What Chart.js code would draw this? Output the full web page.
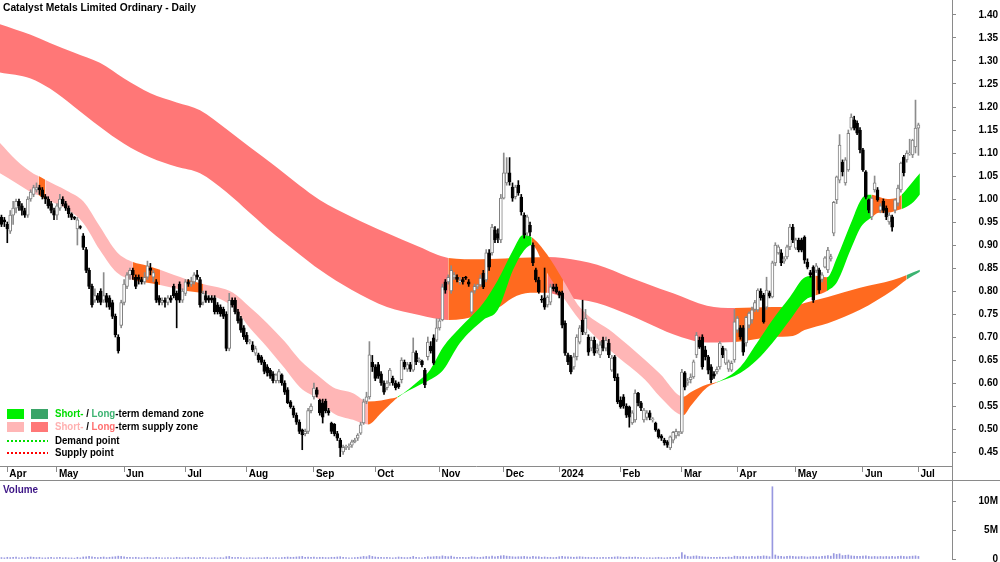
<!DOCTYPE html>
<html>
<head>
<meta charset="utf-8">
<title>Catalyst Metals Limited Ordinary - Daily</title>
<script src="https://cdn.jsdelivr.net/npm/chart.js@4.4.1/dist/chart.umd.min.js"></script>
<style>
  html, body { margin: 0; padding: 0; background: #fff; }
  #page { position: relative; width: 1000px; height: 562px; overflow: hidden; }
  #priceCanvas { position: absolute; left: 0; top: 0; }
  #volCanvas { position: absolute; left: 0; top: 481px; }
  #sep { position: absolute; left: 0; top: 480px; width: 1000px; height: 1px; background: #8a8a8a; }
</style>
</head>
<body>
<div id="page">
  <canvas id="priceCanvas" width="1000" height="481"></canvas>
  <div id="sep"></div>
  <canvas id="volCanvas" width="1000" height="81"></canvas>
</div>
<script>
// daily candles, index 0 = 30 Mar 2023, last = 1 Jul 2024
const opens = [
  .96,.955,.945,.93,.965,.98,.995,.985,.975,.965,
  1.0,1.01,1.02,1.025,1.02,1.005,1.0,.99,.975,.965,
  .98,1.0,.99,.98,.968,.96,.935,.94,.92,.89,
  .845,.81,.78,.79,.8,.78,.79,.785,.775,.745,
  .70,.725,.775,.81,.835,.845,.83,.83,.825,.82,
  .83,.85,.83,.82,.785,.775,.78,.775,.785,.81,
  .795,.815,.78,.795,.82,.815,.82,.835,.825,.775,
  .79,.785,.785,.785,.77,.765,.76,.75,.675,.78,
  .78,.755,.74,.72,.704,.69,.683,.665,.661,.657,
  .645,.635,.628,.62,.605,.605,.618,.6,.585,.559,
  .545,.53,.515,.498,.49,.495,.54,.57,.585,.563,
  .557,.56,.54,.513,.51,.49,.476,.45,.46,.46,
  .465,.472,.48,.491,.513,.56,.57,.645,.635,.64,
  .62,.6,.59,.6,.61,.6,.598,.607,.645,.63,
  .64,.628,.665,.65,.648,.628,.657,.68,.698,.693,
  .72,.737,.82,.82,.80,.83,.83,.82,.825,.83,
  .82,.754,.80,.81,.813,.839,.824,.883,.883,.933,
  .925,.911,1.002,1.035,1.057,1.026,1.005,1.03,1.004,.965,
  .926,.943,.90,.846,.824,.782,.785,.77,.776,.809,
  .809,.798,.796,.73,.661,.657,.635,.657,.689,.737,
  .709,.70,.676,.693,.67,.661,.693,.676,.687,.628,
  .657,.613,.563,.57,.55,.548,.513,.52,.578,.557,
  .52,.525,.535,.52,.513,.498,.485,.476,.472,.459,
  .476,.485,.49,.493,.622,.60,.607,.613,.661,.693,
  .70,.672,.657,.635,.62,.624,.635,.676,.643,.63,
  .628,.65,.715,.72,.72,.687,.726,.737,.76,.759,
  .80,.791,.765,.796,.787,.861,.883,.883,.865,.874,
  .896,.939,.893,.91,.911,.917,.863,.84,.852,.845,
  .846,.825,.852,.846,.87,.926,.998,1.041,1.08,1.035,
  1.063,1.154,1.172,1.165,1.15,1.107,1.059,.998,.961,1.02,
  1.02,.975,.995,.98,.95,.961,.976,.991,1.02,1.091,
  1.085,1.098,1.096,1.113,1.154
];
const highs = [
  .965,.96,.95,.975,.995,1.0,1.0,.99,.98,1.005,
  1.02,1.03,1.035,1.03,1.025,1.01,1.005,.995,.98,.99,
  1.01,1.005,.995,.985,.97,.962,.96,.942,.925,.895,
  .85,.815,.805,.795,.805,.84,.795,.79,.78,.75,
  .705,.78,.825,.84,.85,.85,.835,.835,.83,.84,
  .865,.86,.845,.825,.79,.785,.785,.79,.79,.815,
  .8,.82,.805,.825,.825,.83,.84,.845,.83,.8,
  .8,.79,.79,.79,.775,.77,.765,.755,.795,.785,
  .785,.76,.745,.725,.71,.695,.69,.68,.665,.66,
  .65,.64,.632,.625,.62,.63,.62,.605,.59,.562,
  .55,.535,.52,.5,.5,.545,.555,.6,.59,.565,
  .565,.565,.545,.515,.512,.495,.48,.465,.465,.468,
  .476,.48,.49,.515,.565,.58,.69,.66,.64,.645,
  .625,.605,.605,.632,.615,.605,.602,.655,.65,.645,
  .645,.698,.67,.655,.65,.632,.70,.69,.705,.74,
  .74,.815,.825,.835,.855,.84,.835,.83,.83,.832,
  .825,.80,.815,.815,.835,.845,.89,.89,.945,.94,
  .935,1.01,1.10,1.09,1.09,1.035,1.03,1.04,1.01,.97,
  .965,.95,.905,.85,.83,.79,.85,.79,.815,.815,
  .815,.80,.80,.735,.665,.66,.665,.705,.725,.78,
  .76,.705,.70,.70,.685,.69,.70,.70,.695,.66,
  .66,.62,.57,.575,.555,.55,.54,.585,.58,.56,
  .545,.54,.54,.525,.515,.50,.488,.48,.475,.485,
  .495,.50,.495,.63,.625,.61,.62,.65,.71,.70,
  .705,.68,.66,.64,.625,.635,.69,.68,.675,.65,
  .648,.76,.745,.725,.725,.745,.755,.765,.78,.805,
  .805,.795,.83,.80,.865,.905,.90,.89,.875,.90,
  .945,.945,.915,.915,.915,.92,.87,.845,.855,.86,
  .85,.84,.875,.895,.88,.995,1.05,1.14,1.085,1.09,
  1.15,1.185,1.18,1.17,1.155,1.11,1.062,1.0,1.005,1.05,
  1.025,.99,1.0,.985,.97,.965,1.0,1.03,1.08,1.095,
  1.105,1.13,1.13,1.215,1.165
];
const lows = [
  .94,.94,.905,.925,.945,.97,.975,.965,.96,.96,
  .995,1.005,1.015,1.01,1.0,.99,.98,.97,.955,.955,
  .975,.985,.975,.96,.955,.955,.9,.935,.89,.84,
  .805,.765,.775,.775,.77,.775,.765,.76,.74,.7,
  .665,.72,.77,.805,.825,.825,.805,.815,.815,.815,
  .825,.835,.82,.775,.77,.77,.765,.77,.775,.785,
  .72,.775,.775,.79,.81,.81,.815,.825,.765,.77,
  .775,.775,.775,.75,.75,.745,.74,.67,.67,.765,
  .75,.73,.71,.695,.685,.685,.668,.66,.645,.64,
  .62,.615,.61,.6,.6,.6,.595,.575,.555,.545,
  .525,.51,.49,.455,.485,.49,.535,.565,.57,.53,
  .513,.535,.53,.49,.485,.475,.44,.445,.455,.455,
  .46,.47,.475,.488,.51,.555,.565,.625,.605,.61,
  .595,.575,.585,.595,.595,.585,.588,.6,.63,.625,
  .625,.625,.64,.645,.635,.59,.65,.665,.64,.69,
  .715,.735,.795,.815,.795,.825,.82,.815,.815,.825,
  .81,.75,.795,.805,.81,.805,.82,.845,.878,.905,
  .905,.905,1.0,1.03,1.03,.995,1.0,1.008,.965,.915,
  .92,.92,.855,.82,.795,.775,.76,.765,.77,.80,
  .795,.785,.72,.66,.64,.62,.63,.65,.685,.705,
  .705,.66,.67,.66,.665,.655,.67,.67,.655,.625,
  .605,.555,.545,.545,.525,.504,.51,.515,.55,.54,
  .515,.52,.52,.515,.495,.48,.475,.465,.46,.455,
  .47,.48,.485,.49,.585,.595,.60,.61,.655,.675,
  .63,.65,.62,.60,.61,.62,.63,.655,.64,.625,
  .625,.645,.71,.695,.66,.68,.72,.73,.755,.755,
  .78,.73,.76,.785,.785,.855,.88,.855,.86,.87,
  .89,.905,.89,.885,.885,.86,.848,.83,.775,.84,
  .795,.82,.85,.84,.865,.92,.99,1.035,1.05,1.03,
  1.06,1.15,1.15,1.14,1.10,1.06,1.0,.97,.955,1.015,
  .995,.97,.97,.955,.945,.93,.97,.985,1.015,1.05,
  1.08,1.095,1.09,1.10,1.095
];
const closes = [
  .945,.95,.935,.965,.98,.995,.985,.975,.965,1.0,
  1.015,1.025,1.025,1.02,1.005,1.0,.985,.975,.965,.985,
  1.0,.99,.98,.968,.96,.958,.955,.938,.895,.845,
  .81,.77,.79,.78,.775,.79,.775,.765,.745,.705,
  .67,.775,.815,.835,.845,.835,.81,.825,.82,.83,
  .855,.845,.84,.78,.775,.78,.775,.785,.78,.79,
  .78,.78,.8,.82,.815,.82,.835,.83,.77,.795,
  .78,.78,.78,.755,.755,.75,.745,.675,.78,.77,
  .755,.735,.715,.70,.69,.69,.672,.675,.65,.645,
  .625,.622,.615,.605,.618,.625,.6,.58,.557,.548,
  .53,.515,.495,.487,.495,.54,.55,.589,.575,.535,
  .526,.54,.535,.495,.49,.48,.459,.46,.46,.462,
  .472,.476,.487,.509,.559,.57,.661,.635,.61,.615,
  .6,.58,.6,.628,.6,.59,.592,.65,.635,.64,
  .63,.667,.646,.65,.64,.596,.689,.67,.643,.72,
  .735,.809,.802,.83,.845,.835,.825,.82,.82,.828,
  .815,.798,.81,.81,.828,.809,.883,.852,.939,.911,
  .915,1.002,1.057,1.057,1.037,1.002,1.026,1.013,.972,.922,
  .961,.928,.861,.824,.798,.78,.765,.787,.809,.805,
  .798,.791,.726,.665,.646,.624,.657,.70,.72,.711,
  .741,.667,.693,.665,.675,.683,.676,.693,.661,.654,
  .611,.559,.548,.55,.53,.526,.535,.578,.557,.546,
  .541,.535,.525,.52,.498,.483,.48,.47,.465,.483,
  .493,.495,.49,.624,.591,.605,.613,.646,.704,.678,
  .635,.657,.628,.607,.615,.63,.687,.661,.672,.646,
  .643,.733,.741,.70,.667,.743,.752,.759,.775,.802,
  .785,.733,.802,.789,.861,.90,.896,.861,.87,.896,
  .939,.911,.911,.89,.889,.867,.852,.835,.78,.855,
  .802,.835,.872,.889,.875,.993,1.048,1.117,1.059,1.085,
  1.143,1.178,1.154,1.143,1.107,1.063,1.004,.976,1.002,1.035,
  .998,.985,.975,.961,.965,.939,.998,1.024,1.078,1.057,
  1.10,1.10,1.128,1.154,1.161
];
// volume, millions of shares
const volumes = [
  .25,.2,.3,.25,.3,.35,.2,.25,.2,.3,
  .35,.3,.25,.3,.2,.2,.25,.3,.2,.25,
  .3,.2,.25,.2,.2,.15,.3,.2,.35,.4,
  .45,.4,.3,.25,.3,.35,.25,.3,.35,.4,
  .5,.45,.4,.3,.3,.25,.3,.25,.2,.25,
  .3,.25,.2,.3,.25,.2,.2,.25,.2,.2,
  .3,.25,.2,.25,.3,.2,.25,.2,.3,.25,
  .2,.2,.2,.25,.2,.25,.2,.4,.45,.3,
  .25,.3,.25,.2,.2,.25,.2,.2,.25,.2,
  .25,.3,.2,.2,.25,.2,.25,.3,.35,.3,
  .3,.35,.4,.45,.3,.35,.3,.35,.25,.3,
  .3,.25,.25,.3,.3,.35,.4,.3,.25,.2,
  .2,.25,.3,.35,.45,.4,.6,.45,.35,.3,
  .3,.25,.3,.25,.2,.25,.35,.3,.25,.25,
  .3,.45,.3,.25,.2,.3,.4,.35,.4,.45,
  .4,.55,.45,.4,.5,.35,.3,.3,.3,.25,
  .3,.4,.35,.3,.3,.35,.45,.4,.5,.4,
  .45,.55,.6,.5,.45,.4,.35,.4,.4,.45,
  .4,.35,.45,.4,.4,.3,.35,.3,.3,.25,
  .3,.4,.45,.4,.4,.35,.3,.35,.4,.35,
  .3,.3,.25,.3,.25,.25,.3,.25,.3,.3,
  .35,.4,.35,.3,.3,.35,.3,.35,.3,.25,
  .25,.2,.25,.2,.25,.3,.25,.2,.25,.3,
  .25,.3,.35,1.1,.7,.45,.4,.5,.55,.45,
  .4,.35,.35,.3,.3,.3,.35,.3,.3,.35,
  .3,.5,.45,.4,.45,.4,.4,.45,.4,.5,
  .45,.55,.5,.4,12.6,.7,.5,.45,.4,.45,
  .5,.45,.4,.4,.45,.4,.35,.4,.45,.4,
  .4,.45,.5,.6,.5,.95,.8,.9,.6,.65,
  .7,.55,.5,.45,.45,.5,.55,.45,.4,.45,
  .4,.45,.4,.45,.4,.45,.4,.45,.5,.45,
  .4,.45,.5,.55,.45
];

// short-term zone: knot positions (trading-day index), upper and lower edge, state s/t/d
const shortX = [-0.5,5,11,12.7,15,22.4,28,33.7,39.5,45,50,54.3,63.5,69,79.3,85,91,97,102.2,109,113.5,120.4,125.5,130,132.5,135.6,143.3,146.7,151.2,157,165,170,175.2,178.6,181.6,186.8,192.3,198,209.5,220.4,225.5,233.5,236,241.6,245,253,258.7,264,270,275.2,278.7,282.7,286.2,290.8,294.3,296.6,298,300.4,303.5,306.5,308.3,311.7,314.5];
const shortHi = [1.122,1.085,1.055,1.05,1.042,1.018,.995,.94,.885,.863,.855,.846,.825,.815,.796,.765,.73,.69,.65,.613,.591,.578,.56,.562,.565,.57,.607,.628,.678,.72,.774,.824,.889,.922,.917,.88,.824,.765,.709,.65,.62,.57,.58,.597,.602,.635,.687,.737,.787,.83,.833,.83,.874,.946,.998,1.009,1.009,1.005,1.0,1.002,1.01,1.035,1.056];
const shortLo = [1.056,1.035,1.012,1.008,1.0,.978,.948,.889,.84,.824,.818,.813,.80,.795,.765,.72,.678,.632,.591,.563,.535,.52,.51,.535,.55,.568,.596,.607,.628,.687,.737,.759,.846,.885,.90,.84,.787,.737,.665,.607,.57,.53,.55,.59,.601,.622,.65,.687,.737,.78,.79,.80,.82,.89,.939,.954,.96,.97,.97,.975,.978,.99,1.01];
const shortZone = ['s','s','s','t','s','s','s','s','s','t','t','s','t','s','s','s','s','s','s','s','s','s','t','t','t','d','d','d','d','d','d','d','d','d','t','t','s','s','s','s','s','t','t','t','d','d','d','d','d','d','t','d','d','d','d','d','t','t','t','t','d','d','d'];

// long-term zone
const longX = [-0.5,10,16.6,25,33.7,42,51,60,68,77,85,94,102,109,120,132,143,153,164,170,175,181,187,192.3,204,215,225.5,230,241.6,251.2,264,271,275,283,294,305.3,310,314.5];
const longHi = [1.38,1.357,1.339,1.318,1.296,1.262,1.23,1.21,1.193,1.152,1.113,1.07,1.03,.998,.961,.926,.896,.872,.869,.870,.872,.873,.874,.872,.857,.83,.805,.795,.768,.763,.765,.766,.774,.787,.807,.824,.835,.846];
const longLo = [1.275,1.262,1.24,1.20,1.157,1.12,1.09,1.07,1.056,1.015,.97,.92,.88,.846,.802,.765,.748,.737,.748,.763,.785,.796,.796,.787,.774,.748,.718,.706,.688,.689,.70,.702,.715,.73,.759,.802,.825,.842];
const longZone = ['s','s','s','s','s','s','s','s','s','s','s','s','s','s','s','s','s','t','t','t','t','t','s','s','s','s','s','s','s','t','t','t','t','t','t','t','d','d'];

const monthIdx = [2,19,42,63,84,107,128,150,172,191,212,233,252,272,295,314];
const monthLabels = ['Apr','May','Jun','Jul','Aug','Sep','Oct','Nov','Dec','2024','Feb','Mar','Apr','May','Jun','Jul'];
const priceTicks = [0.45,0.50,0.55,0.60,0.65,0.70,0.75,0.80,0.85,0.90,0.95,1.00,1.05,1.10,1.15,1.20,1.25,1.30,1.35,1.40];
const volTicks = [0, 5, 10];

const FONT = '"Liberation Sans", Arial, sans-serif';
Chart.defaults.font.family = FONT;
Chart.defaults.animation = false;

const shortColors = { s: '#ffb6b6', t: '#ff6a1f', d: '#00f000' };
const longColors = { s: '#ff7777', t: '#ff6a1f', d: '#3cb371' };

function zonePair(xs, hi, lo, zone, palette) {
  const top = {
    type: 'line',
    data: xs.map((x, i) => ({ x: x, y: hi[i] })),
    borderColor: 'rgba(0,0,0,0)',
    borderWidth: 0,
    pointRadius: 0,
    cubicInterpolationMode: 'monotone',
    backgroundColor: palette[zone[0]],
    fill: '+1',
    segment: {
      backgroundColor: ctx => palette[zone[ctx.p0DataIndex]]
    }
  };
  const bottom = {
    type: 'line',
    data: xs.map((x, i) => ({ x: x, y: lo[i] })),
    borderColor: 'rgba(0,0,0,0)',
    borderWidth: 0,
    pointRadius: 0,
    cubicInterpolationMode: 'monotone',
    fill: false
  };
  return [top, bottom];
}

const rising = closes.map((c, i) => c >= opens[i]);

const bodies = {
  type: 'bar',
  data: closes.map((c, i) => ({ x: i, y: [Math.min(opens[i], c), Math.max(opens[i], c)] })),
  backgroundColor: rising.map(u => u ? '#ffffff' : '#000000'),
  borderColor: rising.map(u => u ? '#808080' : '#000000'),
  borderWidth: 1,
  borderSkipped: false,
  barThickness: 3,
  minBarLength: 1,
  grouped: false
};
const wicks = {
  type: 'bar',
  data: closes.map((c, i) => ({ x: i, y: [lows[i], highs[i]] })),
  backgroundColor: rising.map(u => u ? '#8c8c8c' : '#000000'),
  barThickness: 1,
  grouped: false
};

function runText(ctx, runs, x, y, sx) {
  ctx.font = 'bold 11px ' + FONT;
  ctx.textBaseline = 'middle';
  let cx = x;
  runs.forEach(([txt, col]) => {
    ctx.save();
    ctx.translate(cx, y);
    ctx.scale(sx, 1);
    ctx.fillStyle = col;
    ctx.fillText(txt, 0, 0);
    ctx.restore();
    cx += ctx.measureText(txt).width * sx;
  });
}

const priceOverlay = {
  id: 'priceOverlay',
  afterDraw(chart) {
    const ctx = chart.ctx;
    ctx.save();
    // title, squeezed to the width it has in the original
    ctx.font = 'bold 11px ' + FONT;
    const title = 'Catalyst Metals Limited Ordinary - Daily';
    const tw = ctx.measureText(title).width;
    runText(ctx, [[title, '#000']], 3, 8, 193 / tw);

    // legend
    ctx.fillStyle = '#00f000'; ctx.fillRect(7, 409, 17, 10);
    ctx.fillStyle = '#3aa468'; ctx.fillRect(31, 409, 17, 10);
    ctx.fillStyle = '#ffb6b6'; ctx.fillRect(7, 422, 17, 10);
    ctx.fillStyle = '#ff7777'; ctx.fillRect(31, 422, 17, 10);
    ctx.lineWidth = 2;
    ctx.setLineDash([2, 2]);
    ctx.strokeStyle = '#00e000';
    ctx.beginPath(); ctx.moveTo(7, 441); ctx.lineTo(48, 441); ctx.stroke();
    ctx.strokeStyle = '#ff0000';
    ctx.beginPath(); ctx.moveTo(7, 453); ctx.lineTo(48, 453); ctx.stroke();
    ctx.setLineDash([]);
    const sx = 0.88;
    runText(ctx, [['Short-', '#00dd00'], [' / ', '#000'], ['Long', '#3cb371'], ['-term demand zone', '#000']], 55, 414, sx);
    runText(ctx, [['Short-', '#ffb0b0'], [' / ', '#000'], ['Long', '#ff6f6f'], ['-term supply zone', '#000']], 55, 427, sx);
    runText(ctx, [['Demand point', '#000']], 55, 441, sx);
    runText(ctx, [['Supply point', '#000']], 55, 453, sx);

    // axis line continues through the date strip
    const r = chart.chartArea.right;
    ctx.strokeStyle = '#8a8a8a';
    ctx.lineWidth = 1;
    ctx.beginPath(); ctx.moveTo(Math.round(r) + 0.5, chart.chartArea.bottom); ctx.lineTo(Math.round(r) + 0.5, 481); ctx.stroke();
    ctx.restore();
  }
};

const tickFont = { family: FONT, size: 10, weight: 'bold' };

new Chart(document.getElementById('priceCanvas'), {
  type: 'bar',
  data: {
    datasets: [bodies, wicks]
      .concat(zonePair(shortX, shortHi, shortLo, shortZone, shortColors))
      .concat(zonePair(longX, longHi, longLo, longZone, longColors))
  },
  options: {
    responsive: false,
    animation: false,
    layout: { padding: { left: 0, right: 2, top: 0, bottom: 0 } },
    plugins: { legend: { display: false }, tooltip: { enabled: false } },
    scales: {
      x: {
        type: 'linear',
        min: -0.5,
        max: 325.5,
        offset: false,
        afterBuildTicks: s => { s.ticks = monthIdx.map(v => ({ value: v })); },
        afterFit: s => { s.height = 15; s.paddingLeft = 0; s.paddingRight = 0; },
        grid: { offset: false, drawOnChartArea: false, tickLength: 6, color: '#8a8a8a' },
        border: { color: '#8a8a8a' },
        ticks: {
          autoSkip: false, maxRotation: 0, align: 'start', padding: -4,
          color: '#000', font: tickFont,
          // thin space keeps the label just right of its tick mark
          callback: (v, i) => '\u2009' + monthLabels[i]
        }
      },
      y: {
        position: 'right',
        min: 0.4196,
        max: 1.4326,
        afterBuildTicks: s => { s.ticks = priceTicks.map(v => ({ value: v })); },
        afterFit: s => { s.width = 46; s.paddingTop = 0; s.paddingBottom = 0; },
        grid: { drawOnChartArea: false, tickLength: 4, color: '#8a8a8a' },
        border: { color: '#8a8a8a' },
        ticks: { crossAlign: 'far', color: '#000', font: tickFont, callback: v => v.toFixed(2) }
      }
    }
  },
  plugins: [priceOverlay]
});

const volOverlay = {
  id: 'volOverlay',
  afterDraw(chart) {
    const ctx = chart.ctx;
    ctx.save();
    runText(ctx, [['Volume', '#3c1485']], 3, 9, 0.9);
    ctx.restore();
  }
};

new Chart(document.getElementById('volCanvas'), {
  type: 'bar',
  data: {
    datasets: [{
      data: volumes.map((v, i) => ({ x: i, y: v })),
      backgroundColor: '#9898e0',
      barThickness: 1,
      grouped: false
    }]
  },
  options: {
    responsive: false,
    animation: false,
    layout: { padding: { left: 0, right: 2, top: 0, bottom: 3 } },
    plugins: { legend: { display: false }, tooltip: { enabled: false } },
    scales: {
      x: { type: 'linear', display: false, min: -0.5, max: 325.5, offset: false },
      y: {
        position: 'right',
        min: 0,
        max: 13.6,
        afterBuildTicks: s => { s.ticks = volTicks.map(v => ({ value: v })); },
        afterFit: s => { s.width = 46; s.paddingTop = 0; s.paddingBottom = 0; },
        grid: { drawOnChartArea: false, tickLength: 4, color: '#8a8a8a' },
        border: { color: '#8a8a8a' },
        ticks: { crossAlign: 'far', color: '#000', font: tickFont, callback: v => v === 0 ? '0' : v + 'M' }
      }
    }
  },
  plugins: [volOverlay]
});
</script>
</body>
</html>
